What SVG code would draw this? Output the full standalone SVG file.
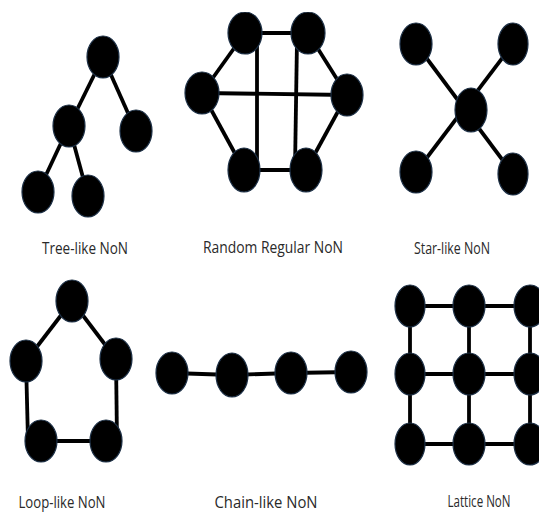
<svg xmlns="http://www.w3.org/2000/svg" width="539" height="514" viewBox="0 0 539 514">
<style>
.n{fill:#000;stroke:#1c2f45;stroke-width:1.2}
.e{stroke:#000;stroke-width:3.8;fill:none}
.t{font-family:"Open Sans","Liberation Sans",Arial,sans-serif;font-size:16px;fill:#2a2a2a;text-anchor:middle}
</style>
<rect width="539" height="514" fill="#fff"/>
<g id="connectors">
<line class="e" x1="103" y1="57" x2="69" y2="126"/>
<line class="e" x1="103" y1="57" x2="136" y2="131"/>
<line class="e" x1="69" y1="126" x2="38" y2="192"/>
<line class="e" x1="69" y1="126" x2="88" y2="196"/>
<line class="e" x1="245" y1="33" x2="308" y2="33"/>
<line class="e" x1="245" y1="33" x2="202" y2="93"/>
<line class="e" x1="308" y1="33" x2="347" y2="95"/>
<line class="e" x1="202" y1="93" x2="347" y2="95"/>
<line class="e" x1="202" y1="93" x2="244" y2="170"/>
<line class="e" x1="347" y1="95" x2="306" y2="170"/>
<line class="e" x1="244" y1="170" x2="306" y2="170"/>
<line class="e" x1="257" y1="40" x2="257" y2="168"/>
<line class="e" x1="297" y1="40" x2="295" y2="168"/>
<line class="e" x1="416" y1="44" x2="513" y2="174"/>
<line class="e" x1="513" y1="44" x2="416" y2="172"/>
<line class="e" x1="72" y1="301" x2="26" y2="361"/>
<line class="e" x1="72" y1="301" x2="116" y2="359"/>
<line class="e" x1="26" y1="361" x2="28" y2="441"/>
<line class="e" x1="116" y1="359" x2="117" y2="441"/>
<line class="e" x1="41" y1="441" x2="106" y2="441"/>
<line class="e" x1="172" y1="373" x2="232" y2="375"/>
<line class="e" x1="232" y1="375" x2="291" y2="373"/>
<line class="e" x1="291" y1="373" x2="351" y2="372"/>
<line class="e" x1="410" y1="306" x2="530" y2="306"/>
<line class="e" x1="410" y1="374" x2="530" y2="374"/>
<line class="e" x1="410" y1="444" x2="530" y2="444"/>
<line class="e" x1="410" y1="306" x2="410" y2="444"/>
<line class="e" x1="469" y1="306" x2="469" y2="444"/>
<line class="e" x1="530" y1="306" x2="530" y2="444"/>
</g>
<g id="tree">
<ellipse id="tree-n1" class="n" cx="103" cy="57" rx="16" ry="21"/>
<ellipse id="tree-n2" class="n" cx="69" cy="126" rx="16" ry="21"/>
<ellipse id="tree-n3" class="n" cx="136" cy="131" rx="16" ry="21"/>
<ellipse id="tree-n4" class="n" cx="38" cy="192" rx="16" ry="21"/>
<ellipse id="tree-n5" class="n" cx="88" cy="196" rx="16" ry="21"/>
<text class="t" x="85" y="254" textLength="86" lengthAdjust="spacingAndGlyphs">Tree-like NoN</text>
</g>
<g id="random">
<ellipse id="rr-n1" class="n" cx="245" cy="33" rx="17" ry="21"/>
<ellipse id="rr-n2" class="n" cx="308" cy="33" rx="17" ry="21"/>
<ellipse id="rr-n3" class="n" cx="202" cy="93" rx="17" ry="21"/>
<ellipse id="rr-n4" class="n" cx="347" cy="95" rx="16" ry="21"/>
<ellipse id="rr-n5" class="n" cx="244" cy="170" rx="16" ry="22"/>
<ellipse id="rr-n6" class="n" cx="306" cy="170" rx="16" ry="22"/>
<text class="t" x="273" y="253" textLength="140" lengthAdjust="spacingAndGlyphs">Random Regular NoN</text>
</g>
<g id="star">
<ellipse id="star-n1" class="n" cx="416" cy="44" rx="16" ry="21"/>
<ellipse id="star-n2" class="n" cx="513" cy="44" rx="15" ry="21"/>
<ellipse id="star-n3" class="n" cx="471" cy="110" rx="16" ry="22"/>
<ellipse id="star-n4" class="n" cx="416" cy="172" rx="16" ry="21"/>
<ellipse id="star-n5" class="n" cx="513" cy="174" rx="15" ry="21"/>
<text class="t" x="452" y="254" textLength="76" lengthAdjust="spacingAndGlyphs">Star-like NoN</text>
</g>
<g id="loop">
<ellipse id="loop-n1" class="n" cx="72" cy="301" rx="16" ry="21"/>
<ellipse id="loop-n2" class="n" cx="26" cy="361" rx="16" ry="21"/>
<ellipse id="loop-n3" class="n" cx="116" cy="359" rx="16" ry="21"/>
<ellipse id="loop-n4" class="n" cx="41" cy="441" rx="16" ry="21"/>
<ellipse id="loop-n5" class="n" cx="106" cy="441" rx="16" ry="21"/>
<text class="t" x="62" y="508" textLength="87" lengthAdjust="spacingAndGlyphs">Loop-like NoN</text>
</g>
<g id="chain">
<ellipse id="chain-n1" class="n" cx="172" cy="373" rx="16" ry="21"/>
<ellipse id="chain-n2" class="n" cx="232" cy="375" rx="16" ry="22"/>
<ellipse id="chain-n3" class="n" cx="291" cy="373" rx="16" ry="21"/>
<ellipse id="chain-n4" class="n" cx="351" cy="372" rx="16" ry="21"/>
<text class="t" x="266" y="508" textLength="103" lengthAdjust="spacingAndGlyphs">Chain-like NoN</text>
</g>
<g id="lattice">
<ellipse id="lat-n1" class="n" cx="410" cy="306" rx="15" ry="21"/>
<ellipse id="lat-n2" class="n" cx="469" cy="306" rx="16" ry="21"/>
<ellipse id="lat-n3" class="n" cx="530" cy="306" rx="16" ry="21"/>
<ellipse id="lat-n4" class="n" cx="410" cy="374" rx="15" ry="21"/>
<ellipse id="lat-n5" class="n" cx="469" cy="374" rx="16" ry="21"/>
<ellipse id="lat-n6" class="n" cx="530" cy="374" rx="16" ry="21"/>
<ellipse id="lat-n7" class="n" cx="410" cy="444" rx="15" ry="21"/>
<ellipse id="lat-n8" class="n" cx="469" cy="444" rx="16" ry="21"/>
<ellipse id="lat-n9" class="n" cx="530" cy="444" rx="16" ry="21"/>
<text class="t" x="479" y="507" textLength="63" lengthAdjust="spacingAndGlyphs">Lattice NoN</text>
</g>
<rect x="0" y="0" width="539" height="12" fill="#fff"/>
</svg>
